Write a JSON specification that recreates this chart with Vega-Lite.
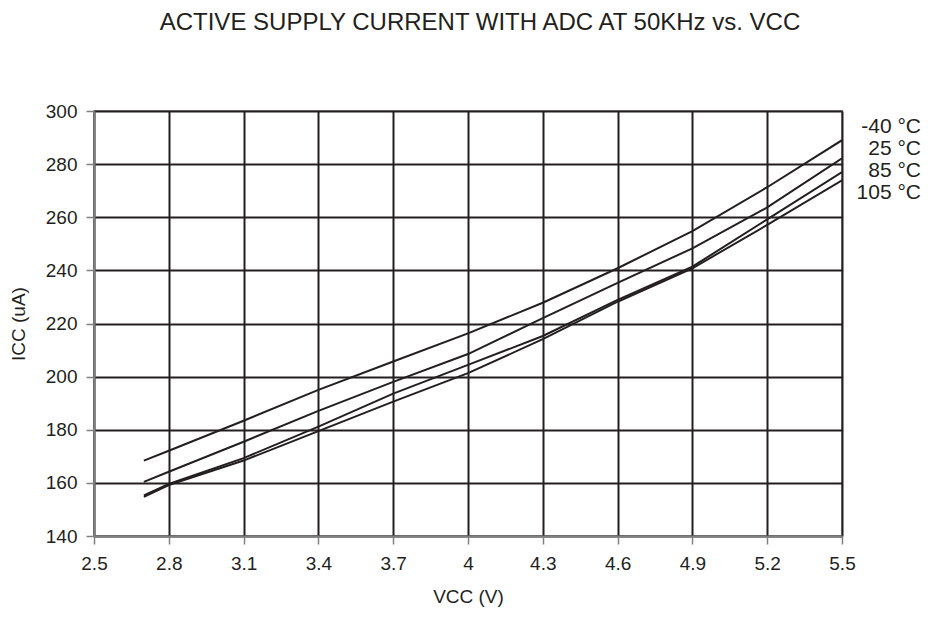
{
  "$schema": "https://vega.github.io/schema/vega-lite/v6.json",
  "width": 748,
  "height": 425,
  "autosize": {"type": "none"},
  "padding": {"left": 94, "top": 111, "right": 86, "bottom": 83},
  "background": "white",
  "title": {
    "text": "ACTIVE SUPPLY CURRENT WITH ADC AT 50KHz vs. VCC",
    "fontSize": 24,
    "font": "Liberation Sans",
    "fontWeight": "normal",
    "color": "#231f20",
    "anchor": "middle",
    "dx": 12,
    "offset": 67
  },
  "config": {
    "font": "Liberation Sans",
    "view": {"stroke": "#9a9a9a", "strokeWidth": 2},
    "axis": {
      "gridColor": "#231f20",
      "gridWidth": 2,
      "gridOpacity": 1,
      "domainColor": "#808080",
      "domainWidth": 2,
      "tickColor": "#808080",
      "tickWidth": 1.5,
      "tickSize": 8,
      "labelFontSize": 19,
      "labelFlush": false,
      "labelColor": "#231f20",
      "titleFontSize": 19,
      "titleFontWeight": "normal",
      "titleColor": "#231f20"
    }
  },
  "data": {
    "values": [
      {"v": 2.7, "i": 168.4, "t": "-40 °C"},
      {"v": 2.8, "i": 172.1, "t": "-40 °C"},
      {"v": 3.1, "i": 183.4, "t": "-40 °C"},
      {"v": 3.4, "i": 195.0, "t": "-40 °C"},
      {"v": 3.7, "i": 205.7, "t": "-40 °C"},
      {"v": 4.0, "i": 216.3, "t": "-40 °C"},
      {"v": 4.3, "i": 227.8, "t": "-40 °C"},
      {"v": 4.6, "i": 240.8, "t": "-40 °C"},
      {"v": 4.9, "i": 254.8, "t": "-40 °C"},
      {"v": 5.2, "i": 271.3, "t": "-40 °C"},
      {"v": 5.5, "i": 289.0, "t": "-40 °C"},
      {"v": 2.7, "i": 160.4, "t": "25 °C"},
      {"v": 2.8, "i": 164.2, "t": "25 °C"},
      {"v": 3.1, "i": 175.5, "t": "25 °C"},
      {"v": 3.4, "i": 187.1, "t": "25 °C"},
      {"v": 3.7, "i": 198.0, "t": "25 °C"},
      {"v": 4.0, "i": 208.5, "t": "25 °C"},
      {"v": 4.3, "i": 222.0, "t": "25 °C"},
      {"v": 4.6, "i": 235.3, "t": "25 °C"},
      {"v": 4.9, "i": 248.3, "t": "25 °C"},
      {"v": 5.2, "i": 263.7, "t": "25 °C"},
      {"v": 5.5, "i": 282.2, "t": "25 °C"},
      {"v": 2.7, "i": 155.3, "t": "85 °C"},
      {"v": 2.8, "i": 159.6, "t": "85 °C"},
      {"v": 3.1, "i": 169.3, "t": "85 °C"},
      {"v": 3.4, "i": 181.2, "t": "85 °C"},
      {"v": 3.7, "i": 193.6, "t": "85 °C"},
      {"v": 4.0, "i": 204.4, "t": "85 °C"},
      {"v": 4.3, "i": 215.3, "t": "85 °C"},
      {"v": 4.6, "i": 228.9, "t": "85 °C"},
      {"v": 4.9, "i": 241.4, "t": "85 °C"},
      {"v": 5.2, "i": 259.2, "t": "85 °C"},
      {"v": 5.5, "i": 277.0, "t": "85 °C"},
      {"v": 2.7, "i": 154.7, "t": "105 °C"},
      {"v": 2.8, "i": 159.2, "t": "105 °C"},
      {"v": 3.1, "i": 168.4, "t": "105 °C"},
      {"v": 3.4, "i": 179.5, "t": "105 °C"},
      {"v": 3.7, "i": 190.6, "t": "105 °C"},
      {"v": 4.0, "i": 201.3, "t": "105 °C"},
      {"v": 4.3, "i": 214.1, "t": "105 °C"},
      {"v": 4.6, "i": 228.2, "t": "105 °C"},
      {"v": 4.9, "i": 240.8, "t": "105 °C"},
      {"v": 5.2, "i": 257.1, "t": "105 °C"},
      {"v": 5.5, "i": 273.9, "t": "105 °C"}
    ]
  },
  "mark": {"type": "line", "strokeWidth": 2, "clip": true},
  "encoding": {
    "x": {
      "field": "v",
      "type": "quantitative",
      "scale": {"domain": [2.5, 5.5], "nice": false, "zero": false},
      "axis": {
        "values": [2.5, 2.8, 3.1, 3.4, 3.7, 4.0, 4.3, 4.6, 4.9, 5.2, 5.5],
        "format": "~g",
        "labelPadding": 10,
        "title": "VCC (V)",
        "titleY": 51
      }
    },
    "y": {
      "field": "i",
      "type": "quantitative",
      "scale": {"domain": [140, 300], "nice": false, "zero": false},
      "axis": {
        "values": [140, 160, 180, 200, 220, 240, 260, 280, 300],
        "labelPadding": 9,
        "title": "ICC (uA)",
        "titleX": -66
      }
    },
    "color": {
      "field": "t",
      "type": "nominal",
      "sort": ["-40 °C", "25 °C", "85 °C", "105 °C"],
      "scale": {"range": ["#231f20", "#231f20", "#231f20", "#231f20"]},
      "legend": {
        "title": null,
        "orient": "none",
        "legendX": 806,
        "legendY": 5,
        "symbolSize": 0,
        "symbolOpacity": 0,
        "symbolStrokeWidth": 0,
        "labelAlign": "right",
        "labelOffset": 0,
        "labelLimit": 200,
        "labelFontSize": 21,
        "labelColor": "#231f20",
        "rowPadding": 0
      }
    }
  }
}
